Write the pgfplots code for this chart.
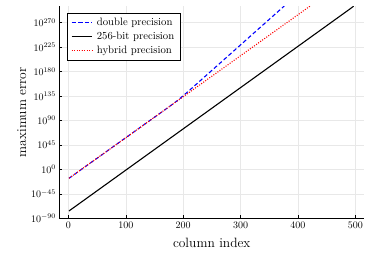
\documentclass[border=0pt]{standalone}
\usepackage{pgfplots}
\pgfplotsset{compat=1.18}
\usetikzlibrary{calc}
\begin{document}
\begin{tikzpicture}
\begin{axis}[
  name=ax,
  scale only axis,
  width=304.5pt, height=211.8pt,
  xmin=-15.5, xmax=515,
  ymin=-90, ymax=300,
  enlargelimits=false,
  axis lines=left,
  axis line style={-, line width=1.1pt, black},
  xtick={0,100,200,300,400,500},
  ytick={-90,-45,0,45,90,135,180,225,270},
  yticklabels={$10^{-90}$,$10^{-45}$,$10^{0}$,$10^{45}$,$10^{90}$,$10^{135}$,$10^{180}$,$10^{225}$,$10^{270}$},
  tick align=inside,
  major tick length=3pt,
  tick style={black, line width=0.5pt},
  grid=major,
  major grid style={gray!18, line width=0.5pt},
  ticklabel style={font=\fontsize{10}{12}\selectfont},
  xlabel={column index},
  ylabel={maximum error},
  label style={font=\fontsize{13.5}{16}\selectfont},
  xlabel style={yshift=-3pt},
  ylabel style={yshift=-2pt},
  legend cell align=left,
  legend style={at={(axis description cs:0.0236,0.97)}, anchor=north west,
    draw=black, line width=0.9pt, font=\fontsize{10.7}{12}\selectfont,
    inner xsep=4pt, inner ysep=3pt, row sep=1pt, column sep=2.5pt},
  legend image post style={xscale=1.18},
]
\addplot[blue, line width=1.1pt, dash pattern=on 4pt off 2.5pt] coordinates {
(1,-16.5) (10,-9.7) (20,-2.2) (30,5.4) (40,12.9) (50,20.5) (60,28.0) (70,35.6)
(80,43.1) (90,50.7) (100,58.2) (110,65.8) (120,73.3) (130,80.9) (140,88.4)
(150,96.0) (160,103.5) (170,111.1) (180,118.7) (190,126.6) (200,135.5)
(210,144.7) (220,154.0) (230,163.4) (240,172.8) (250,182.2) (260,191.6)
(270,201.0) (280,210.4) (290,219.8) (300,229.2) (310,238.6) (320,248.0)
(330,257.4) (340,266.8) (350,276.2) (360,285.6) (370,295.0) (376,300.6)
};
\addlegendentry{double precision}
\addplot[black, line width=1.1pt] coordinates {
(1,-76.7) (10,-69.9) (20,-62.3) (30,-54.7) (40,-47.1) (50,-39.5) (60,-31.9)
(70,-24.3) (80,-16.7) (90,-9.1) (100,-1.5) (110,6.1) (120,13.7) (130,21.3)
(140,28.9) (150,36.5) (160,44.1) (170,51.7) (180,59.3) (190,66.9) (200,74.5)
(210,82.1) (220,89.7) (230,97.3) (240,104.9) (250,112.5) (260,120.1)
(270,127.7) (280,135.3) (290,142.9) (300,150.5) (310,158.1) (320,165.7)
(330,173.3) (340,180.9) (350,188.5) (360,196.1) (370,203.7) (380,211.3)
(390,218.9) (400,226.5) (410,234.1) (420,241.7) (430,249.3) (440,256.9)
(450,264.5) (460,272.1) (470,279.7) (480,287.3) (490,294.9) (497,300.4)
};
\addlegendentry{256-bit precision}
\addplot[red, line width=1.1pt, dash pattern=on 1pt off 1.5pt] coordinates {
(1,-16.5) (10,-9.7) (20,-2.2) (30,5.4) (40,12.9) (50,20.5) (60,28.0) (70,35.6)
(80,43.1) (90,50.7) (100,58.2) (110,65.8) (120,73.3) (130,80.9) (140,88.4)
(150,96.0) (160,103.5) (170,111.1) (180,118.6) (190,126.2) (200,133.7)
(210,141.3) (220,148.8) (230,156.4) (240,163.9) (250,171.5) (260,179.0)
(270,186.6) (280,194.1) (290,201.7) (300,209.2) (310,216.8) (320,224.3)
(330,231.9) (340,239.4) (350,247.0) (360,254.5) (370,262.1) (380,269.6)
(390,277.2) (400,284.7) (410,292.3) (421,300.6)
};
\addlegendentry{hybrid precision}
\end{axis}
\pgfresetboundingbox
\path[use as bounding box] ($(ax.south west)+(-59.5pt,-39.8pt)$) rectangle ($(ax.north east)+(9pt,6.4pt)$);
\end{tikzpicture}
\end{document}
